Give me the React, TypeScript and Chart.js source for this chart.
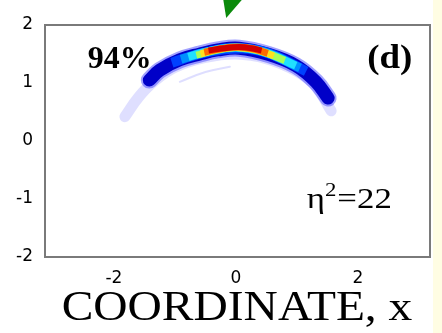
import React, { useEffect, useRef } from "react";
import { Chart, registerables } from "chart.js";

Chart.register(...registerables);

// axis ticks
const xTicks = [-2, 0, 2];
const yTicks = [-2, -1, 0, 1, 2];

// arc geometry (centre lines of each colour layer)
const haloX = [-1.82, -1.6, -1.35, -1.0, -0.5, 0.0, 0.5, 1.0, 1.3, 1.56];
const haloY = [0.42, 0.75, 1.02, 1.27, 1.44, 1.5, 1.42, 1.2, 0.95, 0.52];
const innerX = [-0.92, -0.5, -0.1];
const innerY = [1.02, 1.19, 1.28];
const bandX = [-1.42, -1.25, -0.92, -0.59, -0.3, 0.05, 0.54, 0.98, 1.31, 1.51];
const bandY = [1.05, 1.22, 1.4, 1.5, 1.57, 1.6, 1.49, 1.3, 1.02, 0.74];
const midX = [-1.05, -0.6, -0.2, 0.2, 0.6, 1.15];
const midY = [1.35, 1.5, 1.58, 1.59, 1.49, 1.2];
const lightX = [-0.9, -0.5, 0.0, 0.5, 1.05];
const lightY = [1.41, 1.53, 1.61, 1.52, 1.26];
const cyanX = [-0.78, -0.45, 0.0, 0.5, 0.98];
const cyanY = [1.45, 1.55, 1.61, 1.52, 1.3];
const greenX = [-0.65, -0.3, 0.0, 0.4, 0.8];
const greenY = [1.48, 1.57, 1.61, 1.55, 1.39];
const yellowX = [-0.58, -0.3, 0.0, 0.3, 0.62];
const yellowY = [1.5, 1.58, 1.61, 1.58, 1.47];
const orangeX = [-0.52, -0.25, 0.02, 0.28, 0.52];
const orangeY = [1.53, 1.59, 1.62, 1.59, 1.51];
const redX = [-0.45, -0.2, 0.05, 0.25, 0.42];
const redY = [1.56, 1.6, 1.62, 1.6, 1.56];

// green arrow tip (from the slide) in data units
const arrowX = [-0.21, 0.11, -0.16];
const arrowY = [2.45, 2.45, 2.12];

const pts = (xs: number[], ys: number[]) => xs.map((x, i) => ({ x, y: ys[i] }));

export default function App() {
  const ref = useRef<HTMLCanvasElement | null>(null);
  useEffect(() => {
    document.body.style.margin = "0";
    const canvas = ref.current!;
    const layer = (data: any, color: string, width: number, cap: string = "butt") => ({
      data,
      borderColor: color,
      borderWidth: width,
      pointRadius: 0,
      tension: 0.4,
      fill: false,
      borderCapStyle: cap,
    });
    const stretched = (ctx: any, text: string, x: number, y: number, sx: number) => {
      ctx.save();
      ctx.translate(x, y);
      ctx.scale(sx, 1);
      ctx.fillText(text, 0, 0);
      const w = ctx.measureText(text).width * sx;
      ctx.restore();
      return w;
    };
    const decor = {
      id: "decor",
      beforeDraw(chart: any) {
        const { ctx } = chart;
        ctx.save();
        ctx.fillStyle = "#ffffff";
        ctx.fillRect(0, 0, chart.width, chart.height);
        ctx.fillStyle = "#fffde3";
        ctx.fillRect(433, 0, chart.width - 433, chart.height);
        ctx.restore();
      },
      afterDraw(chart: any) {
        const { ctx, chartArea: a, scales } = chart;
        const sx = (v: number) => scales.x.getPixelForValue(v);
        const sy = (v: number) => scales.y.getPixelForValue(v);
        ctx.save();
        ctx.strokeStyle = "#7a7a7a";
        ctx.lineWidth = 2;
        ctx.strokeRect(a.left, a.top, a.right - a.left, a.bottom - a.top);
        // arrow
        ctx.fillStyle = "#0b8a0b";
        ctx.beginPath();
        arrowX.forEach((x, i) => {
          if (i === 0) ctx.moveTo(sx(x), sy(arrowY[i]));
          else ctx.lineTo(sx(x), sy(arrowY[i]));
        });
        ctx.closePath();
        ctx.fill();
        // texts
        ctx.fillStyle = "#000";
        ctx.textBaseline = "alphabetic";
        ctx.textAlign = "left";
        ctx.font = "bold 31px 'Liberation Serif'";
        stretched(ctx, "94%", sx(-2.43), sy(1.26), 1.03);
        ctx.font = "bold 33px 'Liberation Serif'";
        stretched(ctx, "(d)", sx(2.15), sy(1.26), 1.12);
        const k = 1.2;
        let x0 = sx(1.16);
        const yb = sy(-1.16);
        ctx.font = "29px 'Liberation Serif'";
        x0 += stretched(ctx, "η", x0, yb, k);
        ctx.font = "19px 'Liberation Serif'";
        x0 += stretched(ctx, "2", x0, yb - 12, k) + 1;
        ctx.font = "29px 'Liberation Serif'";
        stretched(ctx, "=22", x0, yb, k);
        // axis title
        ctx.font = "42px 'Liberation Serif'";
        const tw = ctx.measureText("COORDINATE, x").width * 1.13;
        stretched(ctx, "COORDINATE, x", 237 - tw / 2, 320, 1.13);
        ctx.restore();
      },
    };
    const chart = new Chart(canvas, {
      type: "line",
      data: {
        datasets: [
          layer(pts(redX, redY), "#d20000", 6),
          layer(pts(orangeX, orangeY), "#ff6a00", 7),
          layer(pts(yellowX, yellowY), "#ffe020", 7),
          layer(pts(greenX, greenY), "#a8ff58", 7),
          layer(pts(cyanX, cyanY), "#20e0ff", 8),
          layer(pts(lightX, lightY), "#0090ff", 9),
          layer(pts(midX, midY), "#0040ff", 10),
          layer(pts(bandX, bandY), "#0000c8", 13, "round"),
          layer(pts(bandX, bandY), "rgba(70,70,255,0.5)", 17, "round"),
          layer(pts(innerX, innerY), "rgba(160,160,255,0.35)", 2, "round"),
          layer(pts(haloX, haloY), "rgba(185,185,255,0.45)", 11, "round"),
        ],
      },
      plugins: [decor],
      options: {
        animation: false,
        responsive: false,
        parsing: false,
        layout: { padding: { top: 25, right: 12, left: 0, bottom: 0 } },
        plugins: { legend: { display: false }, tooltip: { enabled: false } },
        scales: {
          x: {
            type: "linear",
            min: -3.13,
            max: 3.18,
            afterBuildTicks: (s: any) => {
              s.ticks = xTicks.map((v) => ({ value: v }));
            },
            afterFit: (s: any) => {
              s.height = 76;
            },
            grid: { display: false, drawTicks: false },
            border: { display: false },
            ticks: {
              padding: 11,
              color: "#000",
              font: { family: "'DejaVu Sans'", size: 17 },
            },
          },
          y: {
            type: "linear",
            min: -2,
            max: 2,
            afterBuildTicks: (s: any) => {
              s.ticks = yTicks.map((v) => ({ value: v }));
            },
            afterFit: (s: any) => {
              s.width = 45;
            },
            grid: { display: false, drawTicks: false },
            border: { display: false },
            ticks: {
              padding: 12,
              color: "#000",
              font: { family: "'DejaVu Sans'", size: 17 },
            },
          },
        },
      },
    } as any);
    return () => chart.destroy();
  }, []);
  return <canvas ref={ref} width={442} height={333} style={{ display: "block" }} />;
}
